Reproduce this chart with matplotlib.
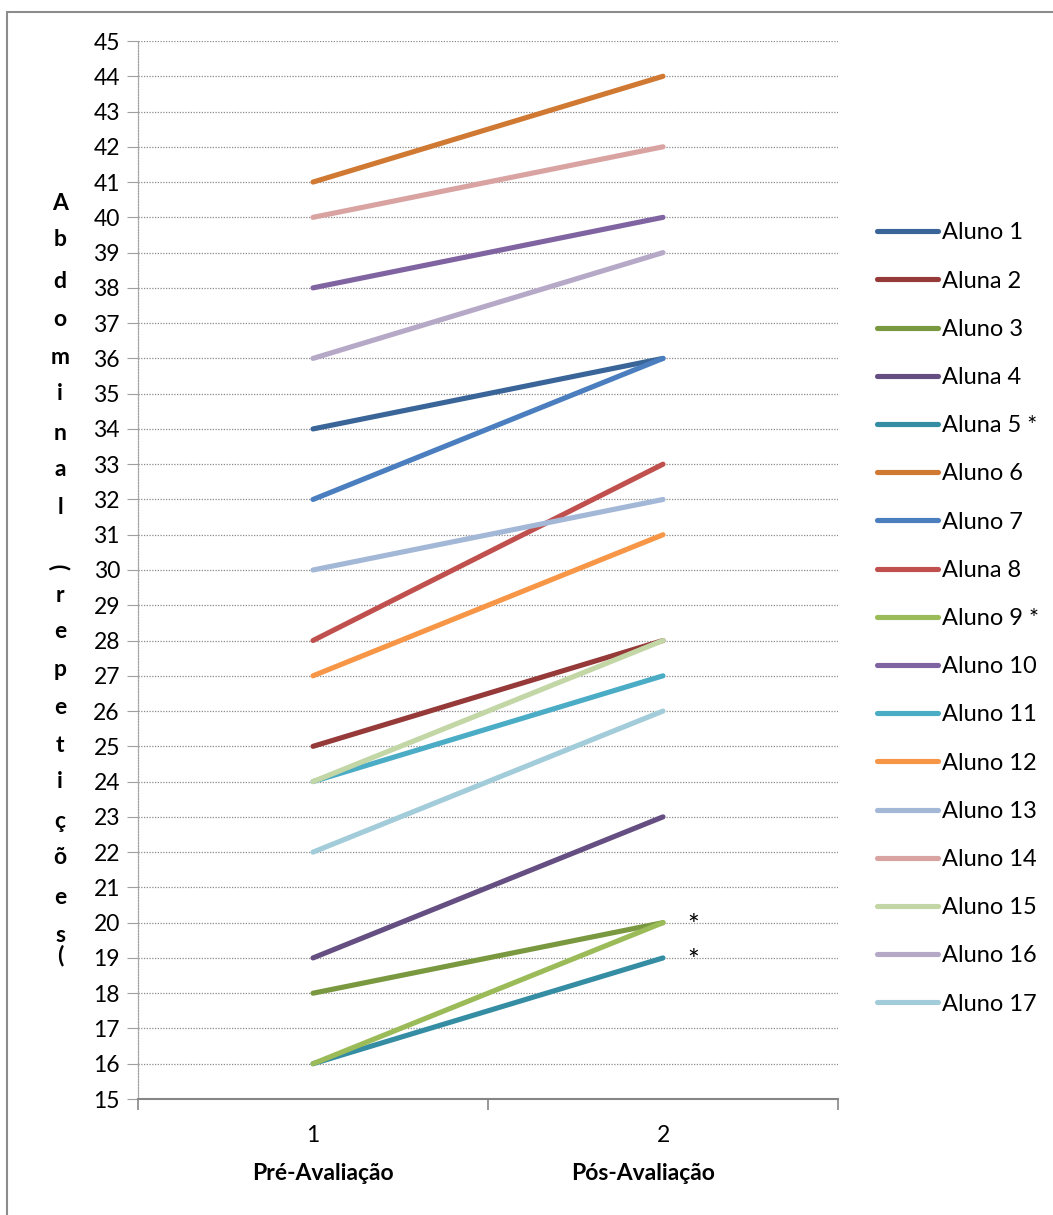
import matplotlib.pyplot as plt
from matplotlib.patches import Rectangle

plt.rcParams['font.family'] = ['Lato', 'DejaVu Sans']

# data
categorias = [1, 2]
alunos = ['Aluno 1', 'Aluna 2', 'Aluno 3', 'Aluna 4', 'Aluna 5 *', 'Aluno 6',
          'Aluno 7', 'Aluna 8', 'Aluno 9 *', 'Aluno 10', 'Aluno 11', 'Aluno 12',
          'Aluno 13', 'Aluno 14', 'Aluno 15', 'Aluno 16', 'Aluno 17']
pre_avaliacao = [34, 25, 18, 19, 16, 41, 32, 28, 16, 38, 24, 27, 30, 40, 24, 36, 22]
pos_avaliacao = [36, 28, 20, 23, 19, 44, 36, 33, 20, 40, 27, 31, 32, 42, 28, 39, 26]
cores = ['#3A6598', '#953A38', '#799840', '#654F82', '#358DA3', '#D07932',
         '#4A7EBF', '#C0504D', '#9BBB59', '#8064A2', '#4BACC6', '#F79646',
         '#A3B7D7', '#D9A3A2', '#C3D6A5', '#B6A9C8', '#A2CCD9']
marcas_y = [20, 19]  # asteriscos ao lado dos pontos (Aluno 9 / Aluna 5)
y_ticks = list(range(15, 46))
rotulo_y = list('Abdominal') + [')'] + list('repetições') + ['(']

fig = plt.figure(figsize=(10.53, 12.15), dpi=100)
ax = fig.add_axes([138 / 1053, 1 - 1099 / 1215, 700 / 1053, 1058 / 1215])

for i, nome in enumerate(alunos):
    ax.plot(categorias, [pre_avaliacao[i], pos_avaliacao[i]], color=cores[i],
            lw=3.7, solid_capstyle='round', label=nome, zorder=3 + i)

ax.set_xlim(0.5, 2.5)
ax.set_ylim(15, 45)
ax.set_yticks(y_ticks)
ax.set_yticklabels([str(v) for v in y_ticks], fontsize=16.5)
ax.set_xticks(categorias)
ax.set_xticklabels(['1', '2'], fontsize=16.5)
ax.set_xticks([0.5, 1.5, 2.5], minor=True)
ax.tick_params(axis='x', which='major', length=0, pad=19)
ax.tick_params(axis='x', which='minor', length=8, color='#868686', width=1.2)
ax.tick_params(axis='y', length=8, color='#A0A0A0', width=0.8, direction='out',
               pad=5)
ax.grid(axis='y', color='#8A8A8A', ls=(0, (1, 1.2)), lw=0.9)
for s in ['top', 'right']:
    ax.spines[s].set_visible(False)
ax.spines['left'].set_color('#A0A0A0')
ax.spines['left'].set_linestyle((0, (1, 1.2)))
ax.spines['left'].set_linewidth(0.9)
ax.spines['bottom'].set_color('#868686')
ax.spines['bottom'].set_linewidth(1.5)
ax.set_axisbelow(True)

# asteriscos
for yv in marcas_y:
    ax.text(2.085, yv - 0.12, '*', fontsize=20, ha='center', va='center',
            zorder=30)

# titulos do eixo x
fig.text(323 / 1053, 1 - 1174 / 1215, 'Pré-Avaliação', fontsize=16.5,
         fontweight='bold', ha='center', va='center')
fig.text(643 / 1053, 1 - 1174 / 1215, 'Pós-Avaliação', fontsize=16.5,
         fontweight='bold', ha='center', va='center')

# titulo do eixo y empilhado
ys = [203, 240, 281, 320, 357, 393, 433, 470, 507, 567, 595, 632, 670, 708,
      745, 782, 822, 858, 897, 935, 955]
for ch, yp in zip(rotulo_y, ys):
    rot = 90 if ch == ')' else 0
    fig.text(60 / 1053, 1 - yp / 1215, ch, fontsize=16.5, fontweight='bold',
             ha='center', va='center', rotation=rot)

# legenda
leg = fig.legend(handles=ax.get_lines(), loc='upper left',
                 bbox_to_anchor=(868 / 1053, 1 - 213 / 1215), frameon=False,
                 fontsize=17, handlelength=2.55, handletextpad=0.2,
                 labelspacing=1.152, borderaxespad=0)

# moldura externa
fig.patches.append(Rectangle((7 / 1053, -0.1), 1.2, 1.1 - 12 / 1215,
                             transform=fig.transFigure, fill=False,
                             edgecolor='#8C8C8C', lw=1.5))

fig.savefig('out.png', dpi=100)
